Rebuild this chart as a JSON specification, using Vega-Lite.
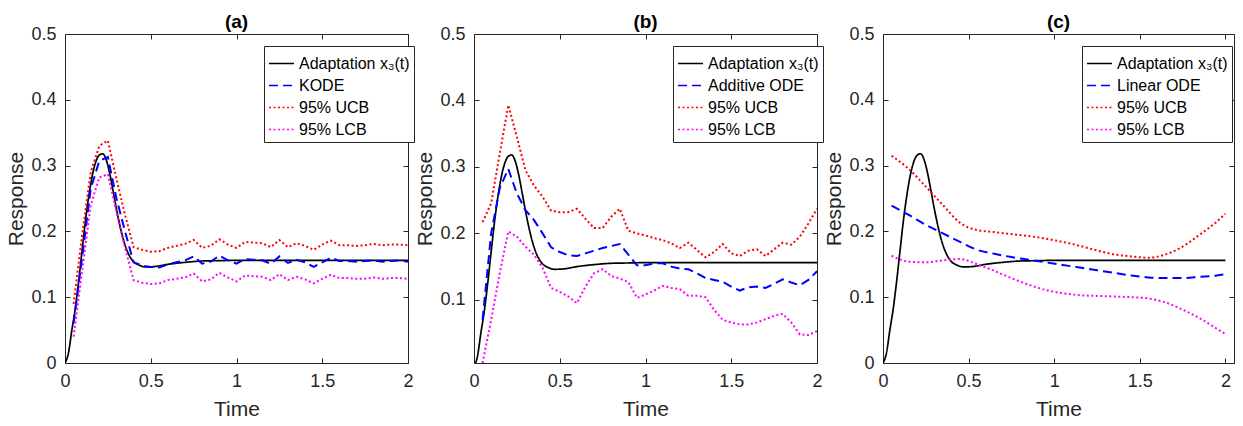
{
  "$schema": "https://vega.github.io/schema/vega-lite/v6.json",
  "padding": {"left": 5, "top": 12, "right": 4, "bottom": 2},
  "datasets": {
    "truth": [
      {"t":0,"Adaptation x₃(t)":0},{"t":0.02,"Adaptation x₃(t)":0.015},{"t":0.04,"Adaptation x₃(t)":0.05},{"t":0.06,"Adaptation x₃(t)":0.083},{"t":0.08,"Adaptation x₃(t)":0.125},{"t":0.1,"Adaptation x₃(t)":0.172},{"t":0.12,"Adaptation x₃(t)":0.218},{"t":0.14,"Adaptation x₃(t)":0.256},{"t":0.16,"Adaptation x₃(t)":0.286},{"t":0.18,"Adaptation x₃(t)":0.306},{"t":0.2,"Adaptation x₃(t)":0.316},{"t":0.22,"Adaptation x₃(t)":0.318},{"t":0.24,"Adaptation x₃(t)":0.309},{"t":0.26,"Adaptation x₃(t)":0.289},{"t":0.28,"Adaptation x₃(t)":0.262},{"t":0.3,"Adaptation x₃(t)":0.234},{"t":0.32,"Adaptation x₃(t)":0.209},{"t":0.34,"Adaptation x₃(t)":0.188},{"t":0.36,"Adaptation x₃(t)":0.172},{"t":0.38,"Adaptation x₃(t)":0.161},{"t":0.4,"Adaptation x₃(t)":0.154},{"t":0.43,"Adaptation x₃(t)":0.149},{"t":0.47,"Adaptation x₃(t)":0.146},{"t":0.52,"Adaptation x₃(t)":0.1465},{"t":0.6,"Adaptation x₃(t)":0.15},{"t":0.7,"Adaptation x₃(t)":0.153},{"t":0.8,"Adaptation x₃(t)":0.155},{"t":0.9,"Adaptation x₃(t)":0.1555},{"t":1.0,"Adaptation x₃(t)":0.156},{"t":1.5,"Adaptation x₃(t)":0.156},{"t":2.0,"Adaptation x₃(t)":0.156}
    ],
    "a": [
      {"t":0.05,"KODE":0.06,"95% UCB":0.09,"95% LCB":0.04},
      {"t":0.1,"KODE":0.16,"95% UCB":0.195,"95% LCB":0.14},
      {"t":0.15,"KODE":0.265,"95% UCB":0.29,"95% LCB":0.24},
      {"t":0.2,"KODE":0.307,"95% UCB":0.33,"95% LCB":0.282},
      {"t":0.25,"KODE":0.313,"95% UCB":0.338,"95% LCB":0.287},
      {"t":0.3,"KODE":0.25,"95% UCB":0.28,"95% LCB":0.23},
      {"t":0.35,"KODE":0.2,"95% UCB":0.225,"95% LCB":0.175},
      {"t":0.4,"KODE":0.153,"95% UCB":0.176,"95% LCB":0.126},
      {"t":0.45,"KODE":0.148,"95% UCB":0.172,"95% LCB":0.122},
      {"t":0.5,"KODE":0.146,"95% UCB":0.169,"95% LCB":0.12},
      {"t":0.55,"KODE":0.145,"95% UCB":0.17,"95% LCB":0.121},
      {"t":0.6,"KODE":0.15,"95% UCB":0.175,"95% LCB":0.126},
      {"t":0.65,"KODE":0.153,"95% UCB":0.178,"95% LCB":0.128},
      {"t":0.7,"KODE":0.156,"95% UCB":0.181,"95% LCB":0.13},
      {"t":0.75,"KODE":0.162,"95% UCB":0.187,"95% LCB":0.136},
      {"t":0.8,"KODE":0.151,"95% UCB":0.175,"95% LCB":0.124},
      {"t":0.85,"KODE":0.154,"95% UCB":0.178,"95% LCB":0.127},
      {"t":0.9,"KODE":0.163,"95% UCB":0.188,"95% LCB":0.137},
      {"t":0.95,"KODE":0.156,"95% UCB":0.18,"95% LCB":0.13},
      {"t":1.0,"KODE":0.151,"95% UCB":0.175,"95% LCB":0.124},
      {"t":1.05,"KODE":0.158,"95% UCB":0.184,"95% LCB":0.133},
      {"t":1.1,"KODE":0.157,"95% UCB":0.183,"95% LCB":0.132},
      {"t":1.15,"KODE":0.156,"95% UCB":0.182,"95% LCB":0.131},
      {"t":1.2,"KODE":0.151,"95% UCB":0.176,"95% LCB":0.126},
      {"t":1.25,"KODE":0.162,"95% UCB":0.187,"95% LCB":0.135},
      {"t":1.3,"KODE":0.152,"95% UCB":0.176,"95% LCB":0.126},
      {"t":1.35,"KODE":0.157,"95% UCB":0.182,"95% LCB":0.131},
      {"t":1.4,"KODE":0.153,"95% UCB":0.178,"95% LCB":0.127},
      {"t":1.45,"KODE":0.146,"95% UCB":0.172,"95% LCB":0.121},
      {"t":1.5,"KODE":0.153,"95% UCB":0.18,"95% LCB":0.128},
      {"t":1.55,"KODE":0.16,"95% UCB":0.186,"95% LCB":0.134},
      {"t":1.6,"KODE":0.155,"95% UCB":0.179,"95% LCB":0.129},
      {"t":1.65,"KODE":0.155,"95% UCB":0.179,"95% LCB":0.129},
      {"t":1.7,"KODE":0.154,"95% UCB":0.178,"95% LCB":0.128},
      {"t":1.75,"KODE":0.155,"95% UCB":0.179,"95% LCB":0.128},
      {"t":1.8,"KODE":0.156,"95% UCB":0.181,"95% LCB":0.13},
      {"t":1.85,"KODE":0.154,"95% UCB":0.179,"95% LCB":0.128},
      {"t":1.9,"KODE":0.155,"95% UCB":0.18,"95% LCB":0.129},
      {"t":1.95,"KODE":0.156,"95% UCB":0.18,"95% LCB":0.129},
      {"t":2.0,"KODE":0.154,"95% UCB":0.179,"95% LCB":0.128}
    ],
    "b": [
      {"t":0.05,"Additive ODE":0.07,"95% UCB":0.217,"95% LCB":0.005},
      {"t":0.1,"Additive ODE":0.2,"95% UCB":0.245,"95% LCB":0.07},
      {"t":0.15,"Additive ODE":0.268,"95% UCB":0.32,"95% LCB":0.14},
      {"t":0.2,"Additive ODE":0.297,"95% UCB":0.393,"95% LCB":0.203},
      {"t":0.25,"Additive ODE":0.26,"95% UCB":0.345,"95% LCB":0.195},
      {"t":0.3,"Additive ODE":0.235,"95% UCB":0.295,"95% LCB":0.18},
      {"t":0.35,"Additive ODE":0.22,"95% UCB":0.272,"95% LCB":0.168},
      {"t":0.4,"Additive ODE":0.2,"95% UCB":0.255,"95% LCB":0.148},
      {"t":0.45,"Additive ODE":0.179,"95% UCB":0.234,"95% LCB":0.118},
      {"t":0.5,"Additive ODE":0.172,"95% UCB":0.232,"95% LCB":0.112},
      {"t":0.55,"Additive ODE":0.167,"95% UCB":0.232,"95% LCB":0.105},
      {"t":0.6,"Additive ODE":0.166,"95% UCB":0.237,"95% LCB":0.095},
      {"t":0.65,"Additive ODE":0.17,"95% UCB":0.222,"95% LCB":0.12},
      {"t":0.7,"Additive ODE":0.174,"95% UCB":0.208,"95% LCB":0.14},
      {"t":0.75,"Additive ODE":0.178,"95% UCB":0.208,"95% LCB":0.146},
      {"t":0.8,"Additive ODE":0.181,"95% UCB":0.225,"95% LCB":0.136},
      {"t":0.85,"Additive ODE":0.184,"95% UCB":0.237,"95% LCB":0.132},
      {"t":0.9,"Additive ODE":0.168,"95% UCB":0.204,"95% LCB":0.127},
      {"t":0.95,"Additive ODE":0.152,"95% UCB":0.2,"95% LCB":0.103},
      {"t":1.0,"Additive ODE":0.152,"95% UCB":0.197,"95% LCB":0.108},
      {"t":1.05,"Additive ODE":0.155,"95% UCB":0.193,"95% LCB":0.114},
      {"t":1.1,"Additive ODE":0.155,"95% UCB":0.19,"95% LCB":0.121},
      {"t":1.15,"Additive ODE":0.15,"95% UCB":0.185,"95% LCB":0.118},
      {"t":1.2,"Additive ODE":0.147,"95% UCB":0.178,"95% LCB":0.116},
      {"t":1.25,"Additive ODE":0.146,"95% UCB":0.186,"95% LCB":0.106},
      {"t":1.3,"Additive ODE":0.14,"95% UCB":0.175,"95% LCB":0.106},
      {"t":1.35,"Additive ODE":0.133,"95% UCB":0.164,"95% LCB":0.104},
      {"t":1.4,"Additive ODE":0.13,"95% UCB":0.172,"95% LCB":0.085},
      {"t":1.45,"Additive ODE":0.127,"95% UCB":0.184,"95% LCB":0.07},
      {"t":1.5,"Additive ODE":0.12,"95% UCB":0.17,"95% LCB":0.066},
      {"t":1.55,"Additive ODE":0.114,"95% UCB":0.166,"95% LCB":0.063},
      {"t":1.6,"Additive ODE":0.119,"95% UCB":0.174,"95% LCB":0.063},
      {"t":1.65,"Additive ODE":0.12,"95% UCB":0.176,"95% LCB":0.066},
      {"t":1.7,"Additive ODE":0.118,"95% UCB":0.166,"95% LCB":0.071},
      {"t":1.75,"Additive ODE":0.124,"95% UCB":0.176,"95% LCB":0.076},
      {"t":1.8,"Additive ODE":0.131,"95% UCB":0.186,"95% LCB":0.079},
      {"t":1.85,"Additive ODE":0.126,"95% UCB":0.183,"95% LCB":0.066},
      {"t":1.9,"Additive ODE":0.122,"95% UCB":0.195,"95% LCB":0.048},
      {"t":1.95,"Additive ODE":0.13,"95% UCB":0.215,"95% LCB":0.047},
      {"t":2.0,"Additive ODE":0.143,"95% UCB":0.237,"95% LCB":0.053}
    ],
    "c": [
      {"t":0.05,"Linear ODE":0.239,"95% UCB":0.315,"95% LCB":0.163},
      {"t":0.15,"Linear ODE":0.225,"95% UCB":0.295,"95% LCB":0.154},
      {"t":0.25,"Linear ODE":0.21,"95% UCB":0.268,"95% LCB":0.153},
      {"t":0.35,"Linear ODE":0.197,"95% UCB":0.24,"95% LCB":0.156},
      {"t":0.45,"Linear ODE":0.184,"95% UCB":0.213,"95% LCB":0.158},
      {"t":0.55,"Linear ODE":0.172,"95% UCB":0.202,"95% LCB":0.15},
      {"t":0.65,"Linear ODE":0.166,"95% UCB":0.199,"95% LCB":0.14},
      {"t":0.75,"Linear ODE":0.161,"95% UCB":0.196,"95% LCB":0.129},
      {"t":0.85,"Linear ODE":0.157,"95% UCB":0.193,"95% LCB":0.119},
      {"t":0.95,"Linear ODE":0.153,"95% UCB":0.189,"95% LCB":0.111},
      {"t":1.05,"Linear ODE":0.149,"95% UCB":0.184,"95% LCB":0.106},
      {"t":1.15,"Linear ODE":0.145,"95% UCB":0.178,"95% LCB":0.103},
      {"t":1.25,"Linear ODE":0.141,"95% UCB":0.171,"95% LCB":0.102},
      {"t":1.35,"Linear ODE":0.137,"95% UCB":0.165,"95% LCB":0.101},
      {"t":1.45,"Linear ODE":0.133,"95% UCB":0.162,"95% LCB":0.1},
      {"t":1.55,"Linear ODE":0.13,"95% UCB":0.16,"95% LCB":0.098},
      {"t":1.65,"Linear ODE":0.129,"95% UCB":0.165,"95% LCB":0.092},
      {"t":1.75,"Linear ODE":0.129,"95% UCB":0.177,"95% LCB":0.081},
      {"t":1.85,"Linear ODE":0.131,"95% UCB":0.195,"95% LCB":0.068},
      {"t":1.95,"Linear ODE":0.133,"95% UCB":0.215,"95% LCB":0.052},
      {"t":2.0,"Linear ODE":0.135,"95% UCB":0.227,"95% LCB":0.044}
    ]
  },
  "hconcat": [
    {
      "title": "(a)",
      "width": 343,
      "height": 329,
      "resolve": {"axis": {"x": "independent", "y": "independent"}},
      "layer": [
        {
          "data": {"name": "truth"},
          "transform": [{"fold": ["Adaptation x₃(t)"], "as": ["s", "v"]}],
          "mark": {"type": "line", "interpolate": "monotone", "strokeWidth": 1.7, "clip": true},
          "encoding": {
            "x": {"field": "t", "type": "quantitative", "scale": {"domain": [0, 2], "nice": false}, "axis": {"values": [0, 0.5, 1, 1.5, 2], "format": "~g", "title": "Time"}},
            "y": {"field": "v", "type": "quantitative", "scale": {"domain": [0, 0.5], "nice": false, "zero": false}, "axis": {"values": [0, 0.1, 0.2, 0.3, 0.4, 0.5], "format": "~g", "title": "Response"}},
            "color": {"field": "s", "type": "nominal", "scale": {"domain": ["Adaptation x₃(t)", "KODE", "95% UCB", "95% LCB"], "range": ["#000000", "#0000ff", "#ff0000", "#ff00ff"]}, "legend": {"orient": "none", "legendX": 199, "legendY": 12}},
            "strokeDash": {"field": "s", "type": "nominal", "scale": {"domain": ["Adaptation x₃(t)", "KODE", "95% UCB", "95% LCB"], "range": [[1, 0], [9, 5], [2, 2.5], [2, 2.5]]}, "legend": {"orient": "none", "legendX": 199, "legendY": 12}}
          }
        },
        {
          "data": {"name": "a"},
          "transform": [{"fold": ["KODE", "95% UCB", "95% LCB"], "as": ["s", "v"]}],
          "mark": {"type": "line", "strokeWidth": 2, "clip": true},
          "encoding": {
            "x": {"field": "t", "type": "quantitative", "axis": null},
            "y": {"field": "v", "type": "quantitative", "axis": null},
            "color": {"field": "s", "type": "nominal"},
            "strokeDash": {"field": "s", "type": "nominal"}
          }
        },
        {
          "data": {"name": "truth"},
          "mark": {"type": "line", "strokeOpacity": 0},
          "encoding": {
            "x": {"field": "t", "type": "quantitative", "axis": {"orient": "top", "values": [0, 0.5, 1, 1.5, 2], "labels": false, "title": null}},
            "y": {"field": "Adaptation x₃(t)", "type": "quantitative", "axis": {"orient": "right", "values": [0, 0.1, 0.2, 0.3, 0.4, 0.5], "labels": false, "title": null}}
          }
        }
      ]
    },
    {
      "title": "(b)",
      "width": 343,
      "height": 329,
      "resolve": {"axis": {"x": "independent", "y": "independent"}},
      "layer": [
        {
          "data": {"name": "truth"},
          "transform": [{"fold": ["Adaptation x₃(t)"], "as": ["s", "v"]}],
          "mark": {"type": "line", "interpolate": "monotone", "strokeWidth": 1.7, "clip": true},
          "encoding": {
            "x": {"field": "t", "type": "quantitative", "scale": {"domain": [0, 2], "nice": false}, "axis": {"values": [0, 0.5, 1, 1.5, 2], "format": "~g", "title": "Time"}},
            "y": {"field": "v", "type": "quantitative", "scale": {"domain": [0.005, 0.5], "nice": false, "zero": false}, "axis": {"values": [0.1, 0.2, 0.3, 0.4, 0.5], "format": "~g", "title": "Response"}},
            "color": {"field": "s", "type": "nominal", "scale": {"domain": ["Adaptation x₃(t)", "Additive ODE", "95% UCB", "95% LCB"], "range": ["#000000", "#0000ff", "#ff0000", "#ff00ff"]}, "legend": {"orient": "none", "legendX": 199, "legendY": 12}},
            "strokeDash": {"field": "s", "type": "nominal", "scale": {"domain": ["Adaptation x₃(t)", "Additive ODE", "95% UCB", "95% LCB"], "range": [[1, 0], [9, 5], [2, 2.5], [2, 2.5]]}, "legend": {"orient": "none", "legendX": 199, "legendY": 12}}
          }
        },
        {
          "data": {"name": "b"},
          "transform": [{"fold": ["Additive ODE", "95% UCB", "95% LCB"], "as": ["s", "v"]}],
          "mark": {"type": "line", "strokeWidth": 2, "clip": true},
          "encoding": {
            "x": {"field": "t", "type": "quantitative", "axis": null},
            "y": {"field": "v", "type": "quantitative", "axis": null},
            "color": {"field": "s", "type": "nominal"},
            "strokeDash": {"field": "s", "type": "nominal"}
          }
        },
        {
          "data": {"name": "truth"},
          "mark": {"type": "line", "strokeOpacity": 0, "clip": true},
          "encoding": {
            "x": {"field": "t", "type": "quantitative", "axis": {"orient": "top", "values": [0, 0.5, 1, 1.5, 2], "labels": false, "title": null}},
            "y": {"field": "Adaptation x₃(t)", "type": "quantitative", "axis": {"orient": "right", "values": [0.1, 0.2, 0.3, 0.4, 0.5], "labels": false, "title": null}}
          }
        }
      ]
    },
    {
      "title": "(c)",
      "width": 351,
      "height": 329,
      "resolve": {"axis": {"x": "independent", "y": "independent"}},
      "layer": [
        {
          "data": {"name": "truth"},
          "transform": [{"fold": ["Adaptation x₃(t)"], "as": ["s", "v"]}],
          "mark": {"type": "line", "interpolate": "monotone", "strokeWidth": 1.7, "clip": true},
          "encoding": {
            "x": {"field": "t", "type": "quantitative", "scale": {"domain": [0, 2.05], "nice": false}, "axis": {"values": [0, 0.5, 1, 1.5, 2], "format": "~g", "title": "Time"}},
            "y": {"field": "v", "type": "quantitative", "scale": {"domain": [0, 0.5], "nice": false, "zero": false}, "axis": {"values": [0, 0.1, 0.2, 0.3, 0.4, 0.5], "format": "~g", "title": "Response"}},
            "color": {"field": "s", "type": "nominal", "scale": {"domain": ["Adaptation x₃(t)", "Linear ODE", "95% UCB", "95% LCB"], "range": ["#000000", "#0000ff", "#ff0000", "#ff00ff"]}, "legend": {"orient": "none", "legendX": 199, "legendY": 12}},
            "strokeDash": {"field": "s", "type": "nominal", "scale": {"domain": ["Adaptation x₃(t)", "Linear ODE", "95% UCB", "95% LCB"], "range": [[1, 0], [9, 5], [2, 2.5], [2, 2.5]]}, "legend": {"orient": "none", "legendX": 199, "legendY": 12}}
          }
        },
        {
          "data": {"name": "c"},
          "transform": [{"fold": ["Linear ODE", "95% UCB", "95% LCB"], "as": ["s", "v"]}],
          "mark": {"type": "line", "strokeWidth": 2, "interpolate": "monotone", "clip": true},
          "encoding": {
            "x": {"field": "t", "type": "quantitative", "axis": null},
            "y": {"field": "v", "type": "quantitative", "axis": null},
            "color": {"field": "s", "type": "nominal"},
            "strokeDash": {"field": "s", "type": "nominal"}
          }
        },
        {
          "data": {"name": "truth"},
          "mark": {"type": "line", "strokeOpacity": 0},
          "encoding": {
            "x": {"field": "t", "type": "quantitative", "axis": {"orient": "top", "values": [0, 0.5, 1, 1.5, 2], "labels": false, "title": null}},
            "y": {"field": "Adaptation x₃(t)", "type": "quantitative", "axis": {"orient": "right", "values": [0, 0.1, 0.2, 0.3, 0.4, 0.5], "labels": false, "title": null}}
          }
        }
      ]
    }
  ],
  "spacing": 66,
  "bounds": "flush",
  "resolve": {"scale": {"color": "independent", "strokeDash": "independent", "x": "independent", "y": "independent"}},
  "config": {
    "font": "Liberation Sans",
    "view": {"stroke": "#262626", "strokeWidth": 1},
    "axis": {
      "grid": false, "domain": false, "tickSize": -5, "tickColor": "#262626", "tickWidth": 1,
      "labelFont": "Liberation Sans", "labelFontSize": 18, "labelColor": "#262626", "labelFlush": false, "labelOverlap": false, "labelPadding": 14,
      "titleFont": "Liberation Sans", "titleFontSize": 21, "titleFontWeight": "normal", "titleColor": "#262626", "titlePadding": 4
    },
    "axisX": {"titlePadding": 8},
    "legend": {
      "title": null, "strokeColor": "#262626", "fillColor": "white", "padding": 4,
      "labelFont": "Liberation Sans", "labelFontSize": 16, "labelColor": "#000000", "labelOffset": 4,
      "symbolType": "stroke", "symbolSize": 625, "symbolStrokeWidth": 1.7, "rowPadding": 0
    },
    "title": {"font": "Liberation Sans", "fontSize": 19, "fontWeight": "bold", "color": "#000000", "offset": -7}
  }
}
